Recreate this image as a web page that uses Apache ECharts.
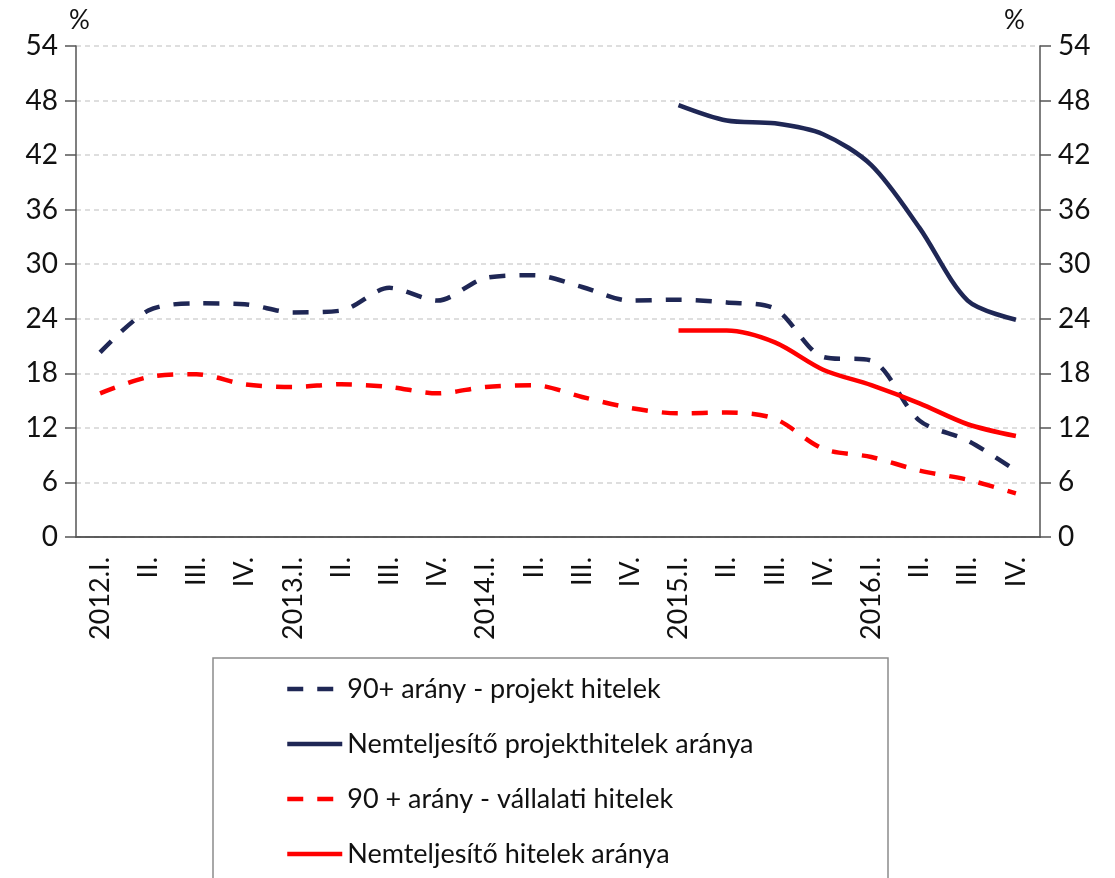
<!DOCTYPE html>
<html>
<head>
<meta charset="utf-8">
<script src="https://cdn.jsdelivr.net/npm/echarts@6/dist/echarts.min.js"></script>
<style>
  html, body { margin: 0; padding: 0; background: #fff; }
  #chart { width: 1115px; height: 878px; }
</style>
</head>
<body>
<div id="chart"></div>
<script>
// negyedévek
var quarters = ['2012.I.', 'II.', 'III.', 'IV.', '2013.I.', 'II.', 'III.', 'IV.',
                '2014.I.', 'II.', 'III.', 'IV.', '2015.I.', 'II.', 'III.', 'IV.',
                '2016.I.', 'II.', 'III.', 'IV.'];

var projekt90 = [20.3, 24.9, 25.7, 25.6, 24.7, 24.9, 27.4, 26.0, 28.5, 28.8,
                 27.5, 26.0, 26.1, 25.8, 25.1, 19.8, 19.4, 12.8, 10.6, 7.3];
var projektNpl = [null, null, null, null, null, null, null, null, null, null,
                  null, null, 47.5, 45.8, 45.5, 44.3, 40.9, 34.0, 26.0, 23.9];
var vallalati90 = [15.8, 17.6, 17.9, 16.8, 16.5, 16.8, 16.5, 15.8, 16.5, 16.7,
                   15.4, 14.2, 13.6, 13.7, 13.0, 9.7, 8.8, 7.3, 6.3, 4.8];
var vallalatiNpl = [null, null, null, null, null, null, null, null, null, null,
                    null, null, 22.7, 22.7, 21.4, 18.4, 16.7, 14.7, 12.4, 11.1];

var yTicks = { min: 0, max: 54, interval: 6 };

var navy = '#1f2755';
var red = '#ff0000';
var font = 'Lato, "Open Sans", sans-serif';

var chart = echarts.init(document.getElementById('chart'));

var yAxisBase = function(pos) {
    return {
        type: 'value',
        position: pos,
        min: yTicks.min,
        max: yTicks.max,
        interval: yTicks.interval,
        axisLine: { show: true, lineStyle: { color: '#555', width: 1.5 } },
        axisTick: { show: true, length: 11, lineStyle: { color: '#555', width: 1.5 } },
        axisLabel: { color: '#111', fontSize: 28, fontFamily: font, margin: 18 },
        splitLine: {
            show: pos === 'left',
            lineStyle: { color: '#d4d4d4', width: 1.5, type: [5, 4] }
        }
    };
};

var option = {
    animation: false,
    grid: { left: 76, right: 75, top: 46, bottom: 341, containLabel: false },
    xAxis: [
        {
            type: 'category',
            data: quarters,
            boundaryGap: true,
            axisLine: { lineStyle: { color: '#555', width: 1.5 } },
            axisTick: { length: 10, lineStyle: { color: '#555', width: 1.5 } },
            axisLabel: {
                rotate: 90, interval: 0, margin: 20,
                color: '#111', fontSize: 27, fontFamily: font
            },
            splitLine: { show: false }
        },
        {
            // felső keret
            type: 'category',
            data: quarters,
            position: 'top',
            axisLine: { show: true, lineStyle: { color: '#555', width: 1.5 } },
            axisTick: { show: false },
            axisLabel: { show: false }
        }
    ],
    yAxis: [yAxisBase('left'), yAxisBase('right')],
    legend: {
        orient: 'vertical',
        left: 285,
        top: 674,
        padding: 0,
        height: 220,
        itemWidth: 55,
        itemHeight: 14,
        itemGap: 25,
        itemStyle: { opacity: 0 },
        lineStyle: { width: 4.5 },
        textStyle: { color: '#111', fontSize: 27, fontFamily: font, lineHeight: 30 },
        data: ['90+ arány - projekt hitelek', 'Nemteljesítő projekthitelek aránya',
               '90 + arány - vállalati hitelek', 'Nemteljesítő hitelek aránya']
    },
    graphic: [
        {
            type: 'rect',
            shape: { x: 213, y: 658, width: 675, height: 260 },
            style: { fill: 'none', stroke: '#8c8c8c', lineWidth: 1.5 },
            silent: true
        },
        {
            type: 'text', left: 69, top: 8,
            style: { text: '%', fontSize: 26, fontFamily: font, fill: '#111' }
        },
        {
            type: 'text', left: 1004, top: 8,
            style: { text: '%', fontSize: 26, fontFamily: font, fill: '#111' }
        }
    ],
    series: [
        {
            name: '90+ arány - projekt hitelek',
            type: 'line',
            data: projekt90,
            smooth: 0.3,
            symbol: 'none',
            lineStyle: { color: navy, width: 4.5, type: [16, 14] },
            itemStyle: { color: navy }
        },
        {
            name: 'Nemteljesítő projekthitelek aránya',
            type: 'line',
            data: projektNpl,
            smooth: 0.3,
            symbol: 'none',
            lineStyle: { color: navy, width: 4.5 },
            itemStyle: { color: navy }
        },
        {
            name: '90 + arány - vállalati hitelek',
            type: 'line',
            data: vallalati90,
            smooth: 0.3,
            symbol: 'none',
            lineStyle: { color: red, width: 4.5, type: [16, 14] },
            itemStyle: { color: red }
        },
        {
            name: 'Nemteljesítő hitelek aránya',
            type: 'line',
            data: vallalatiNpl,
            smooth: 0.3,
            symbol: 'none',
            lineStyle: { color: red, width: 4.5 },
            itemStyle: { color: red }
        }
    ]
};

chart.setOption(option);
</script>
</body>
</html>
